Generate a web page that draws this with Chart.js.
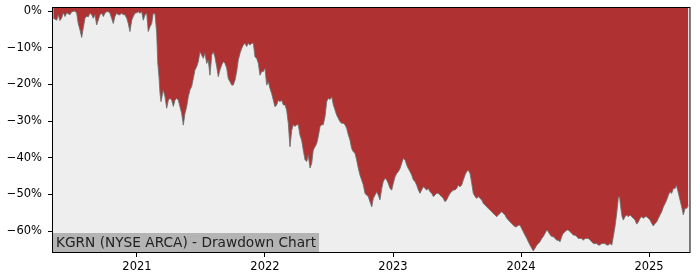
<!DOCTYPE html>
<html>
<head>
<meta charset="utf-8">
<script src="https://cdn.jsdelivr.net/npm/chart.js@4.4.0/dist/chart.umd.min.js"></script>
<style>
  html, body { margin: 0; padding: 0; background: #fff; }
  canvas { display: block; }
</style>
</head>
<body>
<canvas id="dd" width="700" height="280"></canvas>
<script>
// drawdown of KGRN (x = decimal year, y = % below peak)
const years = [
  2020.346, 2020.359, 2020.373, 2020.385, 2020.398, 2020.411, 2020.424, 2020.438, 2020.451, 2020.477,
  2020.490, 2020.516, 2020.529, 2020.541, 2020.555, 2020.568, 2020.580, 2020.594, 2020.607, 2020.619,
  2020.633, 2020.646, 2020.659, 2020.672, 2020.685, 2020.697, 2020.711, 2020.724, 2020.737, 2020.750,
  2020.763, 2020.776, 2020.789, 2020.802, 2020.815, 2020.828, 2020.841, 2020.854, 2020.867, 2020.880,
  2020.893, 2020.906, 2020.920, 2020.932, 2020.945, 2020.959, 2020.971, 2020.984, 2020.998, 2021.010,
  2021.023, 2021.037, 2021.049, 2021.063, 2021.076, 2021.088, 2021.102, 2021.115, 2021.127, 2021.141,
  2021.154, 2021.162, 2021.172, 2021.180, 2021.188, 2021.205, 2021.219, 2021.232, 2021.245, 2021.258,
  2021.271, 2021.284, 2021.297, 2021.310, 2021.323, 2021.336, 2021.349, 2021.362, 2021.375, 2021.388,
  2021.401, 2021.414, 2021.427, 2021.440, 2021.453, 2021.466, 2021.479, 2021.492, 2021.505, 2021.518,
  2021.531, 2021.545, 2021.557, 2021.570, 2021.584, 2021.596, 2021.609, 2021.623, 2021.635, 2021.648,
  2021.662, 2021.674, 2021.688, 2021.701, 2021.713, 2021.727, 2021.740, 2021.752, 2021.766, 2021.779,
  2021.791, 2021.805, 2021.818, 2021.830, 2021.844, 2021.857, 2021.869, 2021.883, 2021.896, 2021.909,
  2021.922, 2021.935, 2021.948, 2021.961, 2021.974, 2021.987, 2022.000, 2022.013, 2022.026, 2022.039,
  2022.052, 2022.065, 2022.078, 2022.091, 2022.104, 2022.117, 2022.130, 2022.143, 2022.156, 2022.169,
  2022.182, 2022.195, 2022.209, 2022.221, 2022.234, 2022.248, 2022.260, 2022.273, 2022.286, 2022.299,
  2022.313, 2022.326, 2022.338, 2022.352, 2022.365, 2022.377, 2022.391, 2022.404, 2022.416, 2022.430,
  2022.443, 2022.455, 2022.469, 2022.482, 2022.494, 2022.508, 2022.521, 2022.534, 2022.547, 2022.560,
  2022.573, 2022.586, 2022.599, 2022.612, 2022.625, 2022.638, 2022.651, 2022.664, 2022.677, 2022.690,
  2022.703, 2022.716, 2022.729, 2022.742, 2022.755, 2022.768, 2022.781, 2022.794, 2022.807, 2022.820,
  2022.834, 2022.846, 2022.859, 2022.873, 2022.885, 2022.898, 2022.912, 2022.924, 2022.938, 2022.951,
  2022.963, 2022.977, 2022.990, 2023.002, 2023.016, 2023.029, 2023.041, 2023.055, 2023.068, 2023.080,
  2023.094, 2023.107, 2023.119, 2023.133, 2023.146, 2023.159, 2023.172, 2023.185, 2023.198, 2023.211,
  2023.224, 2023.237, 2023.250, 2023.263, 2023.276, 2023.289, 2023.302, 2023.315, 2023.328, 2023.341,
  2023.354, 2023.367, 2023.380, 2023.393, 2023.406, 2023.419, 2023.432, 2023.445, 2023.458, 2023.471,
  2023.484, 2023.497, 2023.510, 2023.523, 2023.536, 2023.549, 2023.563, 2023.575, 2023.588, 2023.602,
  2023.615, 2023.627, 2023.641, 2023.654, 2023.666, 2023.680, 2023.693, 2023.706, 2023.719, 2023.732,
  2023.744, 2023.758, 2023.771, 2023.783, 2023.797, 2023.810, 2023.822, 2023.836, 2023.849, 2023.862,
  2023.875, 2023.888, 2023.901, 2023.914, 2023.927, 2023.940, 2023.953, 2023.966, 2023.979, 2023.992,
  2024.005, 2024.018, 2024.031, 2024.045, 2024.057, 2024.070, 2024.084, 2024.096, 2024.109, 2024.123,
  2024.135, 2024.148, 2024.162, 2024.174, 2024.188, 2024.201, 2024.213, 2024.227, 2024.240, 2024.252,
  2024.266, 2024.279, 2024.291, 2024.305, 2024.318, 2024.330, 2024.344, 2024.357, 2024.369, 2024.383,
  2024.396, 2024.409, 2024.422, 2024.435, 2024.448, 2024.461, 2024.474, 2024.487, 2024.500, 2024.513,
  2024.526, 2024.539, 2024.552, 2024.565, 2024.578, 2024.591, 2024.604, 2024.617, 2024.630, 2024.643,
  2024.656, 2024.670, 2024.682, 2024.695, 2024.709, 2024.721, 2024.734, 2024.748, 2024.760, 2024.770,
  2024.777, 2024.789, 2024.799, 2024.813, 2024.826, 2024.838, 2024.852, 2024.865, 2024.877, 2024.891,
  2024.904, 2024.916, 2024.930, 2024.943, 2024.955, 2024.969, 2024.982, 2024.994, 2025.008, 2025.021,
  2025.033, 2025.047, 2025.060, 2025.073, 2025.086, 2025.099, 2025.112, 2025.125, 2025.138, 2025.151,
  2025.164, 2025.177, 2025.190, 2025.203, 2025.213, 2025.227, 2025.242, 2025.255, 2025.268, 2025.281,
  2025.295, 2025.307
];
const drawdown = [
  -2.0, -2.2, -2.5, -1.0, -2.6, -2.0, -0.5, -1.5, -0.5, -1.0,
  -0.2, 0.0, -0.6, -3.4, -5.2, -7.2, -4.7, -2.0, -1.4, -1.6,
  -0.6, -1.0, -2.0, -1.0, -3.8, -2.5, -1.0, -0.6, -1.5, -0.6,
  -0.2, -0.2, -0.6, -2.0, -3.4, -1.5, -0.6, -1.0, -1.0, -0.6,
  -1.0, -1.0, -2.0, -3.4, -5.6, -2.5, -1.5, -0.6, -0.5, -0.2,
  -0.6, -0.2, -2.5, -1.0, -0.6, -5.6, -4.3, -3.4, -0.6, -0.8,
  -6.0, -14.0, -18.0, -22.5, -24.7, -21.5, -23.4, -26.5, -24.3, -23.8,
  -24.3, -26.0, -24.3, -23.8, -24.3, -26.1, -27.9, -31.1, -27.9, -26.1,
  -23.4, -21.5, -20.6, -18.4, -16.1, -15.2, -13.8, -11.1, -12.0, -12.9,
  -11.5, -14.3, -13.4, -17.5, -12.0, -11.1, -12.5, -15.2, -17.9, -16.1,
  -14.7, -13.8, -14.3, -15.6, -18.4, -19.3, -20.2, -20.2, -18.8, -16.5,
  -13.4, -11.5, -10.2, -9.3, -8.8, -9.7, -8.8, -9.3, -8.8, -8.8,
  -12.5, -12.9, -14.3, -17.5, -16.5, -16.5, -15.6, -20.2, -19.3, -21.1,
  -22.5, -24.3, -26.1, -25.6, -24.3, -24.7, -24.3, -25.6, -25.6, -27.0,
  -30.6, -37.0, -32.5, -31.0, -31.5, -31.0, -31.0, -33.8, -35.2, -37.9,
  -40.6, -41.0, -39.3, -42.8, -41.5, -37.9, -37.0, -36.1, -34.3, -31.5,
  -31.0, -31.0, -28.8, -24.7, -23.8, -24.1, -23.4, -25.6, -27.0, -28.4,
  -29.3, -30.2, -30.6, -30.6, -31.0, -32.0, -33.8, -35.2, -37.5, -38.4,
  -38.8, -40.6, -42.9, -44.7, -46.1, -47.4, -49.7, -50.2, -50.6, -52.0,
  -53.4, -51.1, -50.2, -49.3, -50.2, -51.5, -48.4, -46.5, -45.6, -46.1,
  -47.0, -48.4, -48.8, -47.0, -45.2, -44.3, -43.8, -42.9, -41.5, -40.2,
  -40.6, -42.0, -42.9, -43.8, -44.7, -46.1, -46.5, -47.5, -48.8, -49.7,
  -48.8, -47.9, -48.4, -48.8, -48.4, -49.3, -49.7, -50.6, -50.2, -49.7,
  -49.7, -50.2, -50.6, -51.1, -52.0, -51.5, -50.6, -49.7, -49.3, -48.8,
  -48.8, -48.4, -47.5, -47.9, -47.5, -46.1, -44.7, -43.8, -43.4, -44.3,
  -47.0, -49.7, -50.6, -51.1, -50.6, -51.1, -51.5, -52.5, -52.9, -53.4,
  -53.8, -54.3, -54.7, -55.2, -55.6, -56.1, -55.6, -55.2, -54.7, -55.2,
  -55.6, -56.5, -57.0, -57.5, -57.9, -58.4, -58.8, -58.8, -58.4, -58.4,
  -59.3, -60.2, -61.1, -62.0, -62.9, -63.8, -64.7, -65.4, -64.7, -63.8,
  -63.4, -62.9, -62.0, -61.5, -60.6, -59.7, -60.2, -61.0, -61.5, -61.5,
  -62.0, -62.5, -62.5, -62.9, -61.5, -60.6, -60.2, -59.7, -59.7, -60.2,
  -60.6, -61.1, -61.1, -61.5, -62.0, -62.0, -62.0, -62.5, -62.0, -62.0,
  -62.0, -62.5, -62.9, -63.4, -63.4, -63.4, -63.8, -63.8, -63.4, -63.4,
  -63.4, -63.8, -63.8, -63.4, -63.8, -61.5, -58.8, -55.0, -51.0, -50.6,
  -53.0, -56.0, -57.0, -56.0, -55.6, -56.1, -55.6, -56.1, -56.5, -57.0,
  -58.1, -57.5, -56.5, -56.1, -56.5, -56.1, -56.1, -56.5, -57.0, -57.9,
  -58.6, -57.9, -57.5, -56.5, -55.6, -54.7, -53.4, -52.5, -51.5, -50.2,
  -49.3, -49.7, -48.4, -48.4, -47.5, -49.3, -51.5, -53.4, -55.6, -53.8,
  -53.8, -52.9
];
const xTicks = [2021, 2022, 2023, 2024, 2025];
const yTicks = [0, -10, -20, -30, -40, -50, -60];
const title = 'KGRN (NYSE ARCA) - Drawdown Chart';

const tickFont = { family: 'DejaVu Sans', size: 11.5 };

// plot background + frame + caption box, drawn like the matplotlib original
const frame = {
  id: 'frame',
  beforeDatasetsDraw(chart) {
    const { ctx, chartArea: a } = chart;
    ctx.save();
    ctx.fillStyle = '#eeeeee';
    ctx.fillRect(a.left, a.top, a.right - a.left, a.bottom - a.top);
    ctx.restore();
  },
  afterDatasetsDraw(chart) {
    const { ctx, chartArea: a } = chart;
    ctx.save();
    ctx.font = '13.7px "DejaVu Sans"';
    const w = ctx.measureText(title).width;
    ctx.fillStyle = 'rgba(160,160,160,0.75)';
    ctx.fillRect(a.left, a.bottom - 19, w + 6, 19);
    ctx.fillStyle = '#222';
    ctx.textBaseline = 'middle';
    ctx.fillText(title, a.left + 3, a.bottom - 9);
    ctx.strokeStyle = '#000';
    ctx.lineWidth = 1;
    ctx.strokeRect(Math.round(a.left) - 0.5, Math.round(a.top) + 0.5,
                   Math.round(a.right - a.left) + 0.5, Math.round(a.bottom - a.top));
    ctx.restore();
  }
};

new Chart(document.getElementById('dd'), {
  type: 'line',
  data: {
    datasets: [{
      data: years.map((x, i) => ({ x, y: drawdown[i] })),
      borderColor: 'rgba(110,110,110,0.85)',
      borderWidth: 1,
      backgroundColor: '#b03131',
      fill: 'end',
      pointRadius: 0,
      tension: 0
    }]
  },
  options: {
    responsive: false,
    animation: false,
    layout: { padding: { top: 7, right: 10, left: 0, bottom: 0 } },
    plugins: { legend: { display: false }, tooltip: { enabled: false } },
    scales: {
      x: {
        type: 'linear',
        min: 2020.344,
        max: 2025.32,
        afterBuildTicks: s => { s.ticks = xTicks.map(v => ({ value: v })); },
        afterFit: s => { s.height = 28; },
        ticks: { font: tickFont, color: '#000', padding: 3, maxRotation: 0, callback: v => String(v) },
        grid: { drawOnChartArea: false, drawTicks: true, tickLength: 5, tickColor: '#000' },
        border: { display: false }
      },
      y: {
        min: -65.7,
        max: 1.1,
        afterBuildTicks: s => { s.ticks = yTicks.map(v => ({ value: v })); },
        afterFit: s => { s.width = 53; s.paddingTop = 0; s.paddingBottom = 0; },
        ticks: { font: tickFont, color: '#000', padding: 6, callback: v => (v < 0 ? '\u2212' + Math.abs(v) : v) + '%' },
        grid: { drawOnChartArea: false, drawTicks: true, tickLength: 5, tickColor: '#000' },
        border: { display: false }
      }
    }
  },
  plugins: [frame]
});
</script>
</body>
</html>
